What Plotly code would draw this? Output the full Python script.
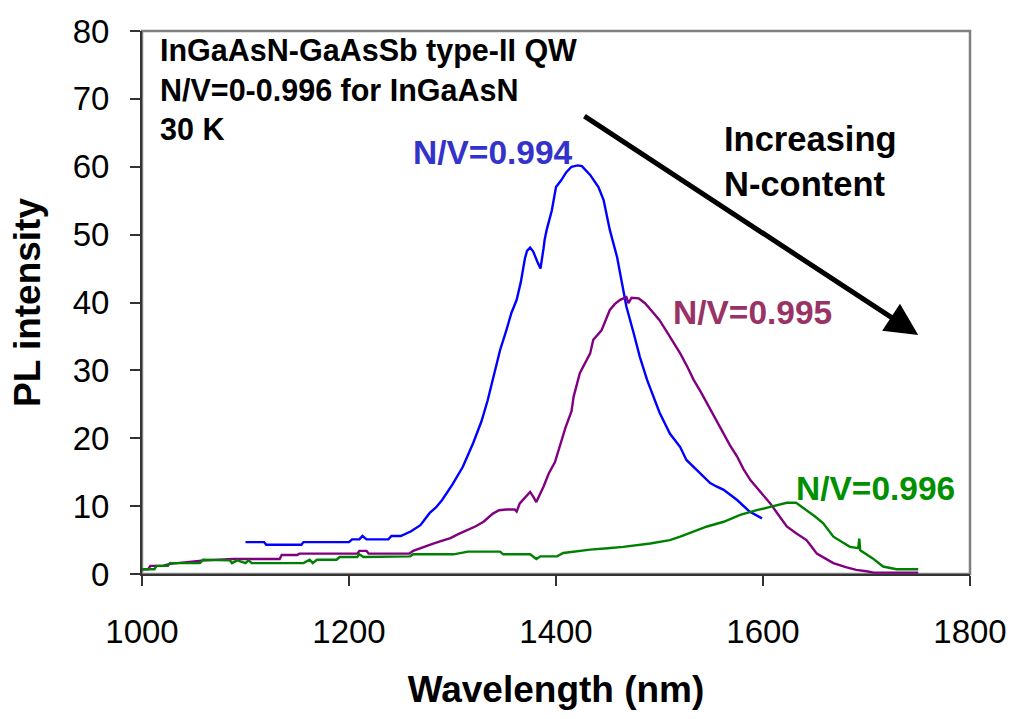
import plotly.graph_objects as go

# ---------------- data ----------------
wl_0994 = [1100, 1118, 1120, 1154, 1156, 1200, 1203, 1210, 1213, 1217, 1238, 1241, 1250, 1260,
           1269, 1275, 1278, 1284, 1290, 1300, 1310, 1320, 1328, 1334, 1341, 1346, 1352, 1357,
           1362, 1366, 1370, 1372, 1375, 1378, 1382, 1385, 1388, 1389, 1391, 1396, 1400, 1405,
           1410, 1415, 1421, 1425, 1433, 1441, 1446, 1452, 1459, 1464, 1468, 1475, 1481, 1488,
           1494, 1500, 1510, 1520, 1526, 1539, 1549, 1555, 1562, 1575, 1587, 1599]
pl_0994 = [4.7, 4.7, 4.3, 4.3, 4.7, 4.7, 5.1, 5.1, 5.6, 5.1, 5.1, 5.6, 5.6, 6.3,
           7.2, 8.4, 9.0, 9.8, 10.9, 13.2, 15.8, 19.3, 22.5, 25.6, 30.0, 33.0, 35.9, 38.5,
           40.4, 43.0, 46.5, 47.6, 48.1, 47.5, 46.0, 45.0, 48.0, 49.2, 50.7, 53.6, 57.0, 58.0,
           59.2, 60.0, 60.2, 60.1, 58.8, 57.0, 55.1, 50.7, 46.7, 42.8, 39.4, 35.5, 32.0, 28.6,
           26.1, 23.8, 20.7, 18.7, 16.8, 14.8, 13.4, 12.9, 12.4, 10.9, 9.2, 8.2]

wl_0995 = [1000, 1006, 1008, 1020, 1027, 1060, 1088, 1133, 1135, 1150, 1152, 1208, 1210, 1217,
           1219, 1258, 1262, 1272, 1280, 1288, 1298, 1306, 1315, 1322, 1330, 1339, 1345, 1352,
           1360, 1362, 1365, 1370, 1375, 1378, 1381, 1388, 1393, 1399, 1404, 1409, 1415, 1417,
           1423, 1428, 1433, 1436, 1444, 1452, 1457, 1462, 1468, 1470, 1473, 1480, 1486, 1494,
           1500, 1507, 1514, 1520, 1527, 1533, 1540, 1546, 1554, 1562, 1568, 1575, 1581, 1588,
           1598, 1607, 1615, 1623, 1632, 1642, 1647, 1652, 1660, 1668, 1680, 1690, 1700, 1707,
           1750]
pl_0995 = [0.7, 0.7, 1.2, 1.2, 1.5, 2.0, 2.2, 2.2, 2.8, 2.8, 3.0, 3.0, 3.4, 3.4,
           3.0, 3.0, 3.4, 4.0, 4.4, 4.8, 5.3, 5.9, 6.5, 7.0, 7.7, 8.9, 9.4, 9.5,
           9.5, 9.2, 10.4, 11.3, 12.1, 11.4, 10.6, 12.9, 14.8, 16.5, 19.2, 21.5, 24.0, 26.1,
           29.6, 31.0, 32.5, 34.5, 35.9, 38.9, 39.8, 40.4, 40.8, 39.9, 40.7, 40.6, 39.9, 38.5,
           37.4, 35.7, 34.0, 32.5, 30.5, 28.6, 26.8, 25.1, 23.0, 20.7, 19.0, 17.3, 15.5, 13.8,
           12.0, 10.4, 8.7, 7.0, 6.0, 5.0, 4.0, 3.0, 2.3, 1.6, 1.0, 0.6, 0.4, 0.2,
           0.2]

wl_0996 = [1000, 1012, 1014, 1025, 1027, 1056, 1059, 1085, 1087, 1092, 1100, 1103, 1106, 1156,
           1162, 1165, 1169, 1188, 1191, 1208, 1210, 1214, 1259, 1262, 1301, 1315, 1346, 1349,
           1375, 1381, 1385, 1401, 1407, 1433, 1450, 1465, 1491, 1510, 1520, 1529, 1546, 1562,
           1578, 1594, 1610, 1623, 1632, 1642, 1650, 1658, 1668, 1684, 1692, 1693, 1694, 1706,
           1716, 1729, 1750]
pl_0996 = [0.7, 0.7, 1.2, 1.2, 1.6, 1.6, 2.1, 2.0, 1.6, 2.0, 1.6, 2.0, 1.6, 1.6,
           2.1, 1.6, 2.1, 2.1, 2.5, 2.5, 2.9, 2.5, 2.6, 2.9, 2.9, 3.3, 3.3, 2.9,
           2.9, 2.2, 2.6, 2.6, 3.1, 3.6, 3.8, 4.0, 4.5, 5.0, 5.5, 6.0, 7.0, 7.7,
           8.7, 9.4, 10.0, 10.5, 10.5, 9.4, 8.5, 7.5, 5.5, 4.0, 3.8, 5.2, 3.5, 2.3,
           1.1, 0.7, 0.7]

series_names = ["N/V=0.994", "N/V=0.995", "N/V=0.996"]
x_ticks = [1000, 1200, 1400, 1600, 1800]
y_ticks = [0, 10, 20, 30, 40, 50, 60, 70, 80]

FONT = "Liberation Sans, Arial, sans-serif"

fig = go.Figure()
fig.add_trace(go.Scatter(x=wl_0994, y=pl_0994, mode="lines", name=series_names[0],
                         line=dict(color="#0000FF", width=2.4)))
fig.add_trace(go.Scatter(x=wl_0995, y=pl_0995, mode="lines", name=series_names[1],
                         line=dict(color="#800080", width=2.4)))
fig.add_trace(go.Scatter(x=wl_0996, y=pl_0996, mode="lines", name=series_names[2],
                         line=dict(color="#008000", width=2.4)))

annotations = [
    dict(text="<b>InGaAsN-GaAsSb type-II QW<br>N/V=0-0.996 for InGaAsN<br>30 K</b>",
         xref="paper", yref="paper", x=0.019, y=0.893, xanchor="left", yanchor="middle",
         align="left", showarrow=False, font=dict(family=FONT, size=30.5, color="black")),
    dict(text="<b>N/V=0.994</b>", xref="paper", yref="paper", x=0.424, y=0.777,
         xanchor="center", yanchor="middle", showarrow=False,
         font=dict(family=FONT, size=33.5, color="#3333CC")),
    dict(text="<b>N/V=0.995</b>", xref="paper", yref="paper", x=0.737, y=0.481,
         xanchor="center", yanchor="middle", showarrow=False,
         font=dict(family=FONT, size=33.5, color="#993366")),
    dict(text="<b>N/V=0.996</b>", xref="paper", yref="paper", x=0.886, y=0.158,
         xanchor="center", yanchor="middle", showarrow=False,
         font=dict(family=FONT, size=33.5, color="#009000")),
    dict(text="<b>Increasing<br>N-content</b>", xref="paper", yref="paper", x=0.700, y=0.760,
         xanchor="left", yanchor="middle", align="left", showarrow=False,
         font=dict(family=FONT, size=34.5, color="black")),
    dict(text="", x=1750, y=35.2, xref="x", yref="y", ax=1426, ay=67.6, axref="x", ayref="y",
         showarrow=True, arrowhead=2, arrowsize=1.3, arrowwidth=5, arrowcolor="black",
         standoff=0),
]

fig.update_layout(
    width=1010, height=719,
    margin=dict(l=142, r=40, t=31, b=145),
    paper_bgcolor="white", plot_bgcolor="white",
    showlegend=False,
    font=dict(family=FONT, color="black"),
    annotations=annotations,
    shapes=[dict(type="rect", xref="paper", yref="paper", x0=0, y0=0, x1=1, y1=1,
                 line=dict(color="#808080", width=2.5), layer="below")],
)
fig.update_xaxes(
    range=[1000, 1800], tickvals=x_ticks, ticktext=[str(v) for v in x_ticks],
    automargin=False, ticklabeloverflow="allow",
    showgrid=False, zeroline=False, showline=True, linecolor="#333333", linewidth=2,
    ticks="outside", ticklen=10, tickwidth=1.5, tickcolor="#333333",
    tickfont=dict(family=FONT, size=33, color="black"), ticklabelstandoff=17,
    title=dict(text="<b>Wavelength (nm)</b>", font=dict(family=FONT, size=37, color="black"),
               standoff=28),
)
fig.update_yaxes(
    range=[0, 80], tickvals=y_ticks, ticktext=[str(v) for v in y_ticks],
    automargin=False, ticklabeloverflow="allow",
    showgrid=False, zeroline=False, showline=True, linecolor="#333333", linewidth=2,
    ticks="outside", ticklen=10, tickwidth=1.5, tickcolor="#333333",
    tickfont=dict(family=FONT, size=33, color="black"), ticklabelstandoff=14,
    title=dict(text="<b>PL intensity</b>", font=dict(family=FONT, size=37, color="black"),
               standoff=21),
)

fig.write_html("out.html")
